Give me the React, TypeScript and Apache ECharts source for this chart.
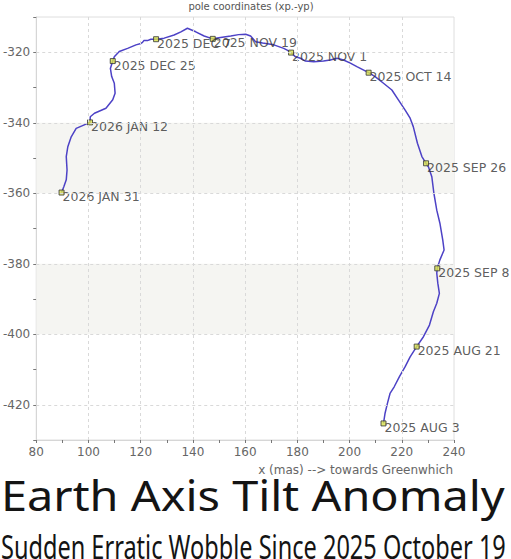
import React, { useEffect, useRef } from 'react';
import * as echarts from 'echarts';

// Polar motion path, in time order (2025 AUG 3 -> 2026 JAN 31)
const pathX = [
  213.0, 213.6, 214.5, 215.5, 217.1, 219.1, 221.3, 223.2, 225.7, 228.3, 230.6, 232.1, 233.4, 234.4, 233.8, 233.4,
  233.6, 234.6, 236.2, 235.7, 234.6, 233.4, 232.3, 231.5, 230.2, 229.3, 227.7, 226.0, 224.4, 223.2, 221.3, 218.7,
  216.2, 213.0, 209.8, 207.3, 202.8, 200.3, 197.7, 195.2, 192.6, 190.0, 186.3, 183.1, 181.2, 179.3, 177.6, 176.1,
  174.8, 171.0, 166.7, 164.0, 162.1, 160.2, 157.5, 154.5, 150.6, 147.6, 144.3, 141.1, 137.9, 135.4, 132.8, 129.0,
  125.9, 123.9, 122.6, 121.2, 120.7, 120.1, 118.2, 115.0, 111.8, 109.9, 109.3, 108.4, 108.9, 109.9, 110.2, 109.3,
  106.7, 102.3, 100.7, 100.6, 98.4, 95.3, 93.4, 92.1, 91.5, 91.8, 91.5, 90.6, 89.7,
];
const pathY = [
  -425.3, -422.4, -419.6, -416.8, -414.9, -412.0, -409.2, -406.4, -403.5, -400.7, -397.4, -393.6, -391.2, -388.4, -385.5, -382.7,
  -381.3, -378.9, -376.1, -373.3, -368.5, -364.8, -360.0, -355.3, -352.5, -351.5, -349.6, -345.8, -341.1, -338.7, -336.4, -333.5,
  -330.7, -328.8, -326.9, -325.8, -324.1, -323.1, -322.2, -321.7, -322.2, -322.5, -322.7, -322.5, -321.7, -321.3, -320.1, -319.4,
  -318.9, -317.9, -317.4, -317.0, -315.4, -314.9, -315.0, -315.4, -315.8, -316.2, -315.4, -314.2, -313.2, -314.2, -315.1, -316.0,
  -316.3, -316.3, -316.7, -316.7, -317.2, -317.5, -317.9, -318.9, -319.8, -321.3, -322.5, -324.6, -326.9, -328.8, -331.6, -333.5,
  -335.9, -337.3, -338.3, -339.9, -340.6, -341.6, -344.0, -346.8, -349.6, -353.4, -356.2, -358.1, -359.8,
];

const markerX = [213.0, 225.7, 233.6, 229.3, 207.3, 177.6, 147.6, 125.9, 109.3, 100.6, 89.7];
const markerY = [-425.3, -403.5, -381.3, -351.5, -325.8, -320.1, -316.2, -316.3, -322.5, -339.9, -359.8];
const markerLabels = [
  '2025 AUG 3', '2025 AUG 21', '2025 SEP 8', '2025 SEP 26', '2025 OCT 14', '2025 NOV 1',
  '2025 NOV 19', '2025 DEC 7', '2025 DEC 25', '2026 JAN 12', '2026 JAN 31',
];

const xGridValues = [100, 120, 140, 160, 180, 200, 220];
const yGridValues = [-420, -400, -380, -360, -340, -320];
const bandRanges = [
  [-360, -340],
  [-400, -380],
];

const chartTitle = 'pole coordinates (xp.-yp)';
const xAxisName = 'x (mas) --> towards Greenwhich';
const headline = 'Earth Axis Tilt Anomaly';
const subline = 'Sudden Erratic Wobble Since 2025 October 19';

function measure(text: string, font: string): number {
  const ctx = document.createElement('canvas').getContext('2d');
  if (!ctx) return 1;
  ctx.font = font;
  return ctx.measureText(text).width;
}

export default function App() {
  const ref = useRef<HTMLDivElement>(null);

  useEffect(() => {
    document.body.style.margin = '0';
    if (!ref.current) return;
    const chart = echarts.init(ref.current, undefined, { renderer: 'svg' });

    const headFont = '41px "Noto Sans"';
    const subFont = '32px "Noto Sans"';
    const headScale = 504 / measure(headline, headFont);
    const subScale = 505 / measure(subline, subFont);

    const pathData = pathX.map((x, i) => [x, pathY[i]]);
    const markerData = markerX.map((x, i) => ({ value: [x, markerY[i]], name: markerLabels[i] }));

    const gridLineStyle = { color: '#d9d9d9', type: [3, 3] as any, width: 1 };

    chart.setOption({
      animation: false,
      backgroundColor: '#ffffff',
      grid: {
        left: 35,
        right: 57,
        top: 17,
        bottom: 119,
        show: true,
        borderColor: '#dedede',
        borderWidth: 1,
        backgroundColor: 'transparent',
      },
      xAxis: {
        type: 'value',
        min: 80,
        max: 240,
        interval: 10,
        axisLine: { show: true, lineStyle: { color: '#d6d6d6' } },
        axisTick: { show: true, length: 3, lineStyle: { color: '#777' } },
        splitLine: { show: false },
        axisLabel: {
          margin: 6,
          color: '#666',
          fontSize: 12,
          fontFamily: 'DejaVu Sans',
          formatter: (v: number) => (v % 20 === 0 ? String(v) : ''),
        },
      },
      yAxis: {
        type: 'value',
        min: -430,
        max: -310,
        interval: 10,
        axisLine: { show: true, lineStyle: { color: '#d6d6d6' } },
        axisTick: { show: true, length: 3, lineStyle: { color: '#777' } },
        splitLine: { show: false },
        axisLabel: {
          margin: 6,
          color: '#666',
          fontSize: 12,
          fontFamily: 'DejaVu Sans',
          formatter: (v: number) => (v % 20 === 0 ? String(v) : ''),
        },
      },
      graphic: [
        {
          type: 'text',
          x: 251,
          y: 6,
          style: {
            text: chartTitle,
            font: '10px "DejaVu Sans"',
            fill: '#555',
            textAlign: 'center',
            textVerticalAlign: 'middle',
          },
        },
        {
          type: 'text',
          x: 453,
          y: 470,
          style: {
            text: xAxisName,
            font: '12px "DejaVu Sans"',
            fill: '#666',
            textAlign: 'right',
            textVerticalAlign: 'middle',
          },
        },
        {
          type: 'text',
          x: 1,
          y: 475,
          scaleX: headScale,
          style: {
            text: headline,
            font: headFont,
            fill: '#141414',
            textAlign: 'left',
            textVerticalAlign: 'top',
          },
        },
        {
          type: 'text',
          x: 1,
          y: 530,
          scaleX: subScale,
          style: {
            text: subline,
            font: subFont,
            fill: '#141414',
            textAlign: 'left',
            textVerticalAlign: 'top',
          },
        },
      ],
      series: [
        {
          type: 'line',
          data: [],
          z: 1,
          silent: true,
          markArea: {
            silent: true,
            itemStyle: { color: '#f5f5f2' },
            data: bandRanges.map((r) => [{ yAxis: r[0] }, { yAxis: r[1] }]),
          },
          markLine: {
            silent: true,
            symbol: ['none', 'none'],
            label: { show: false },
            lineStyle: gridLineStyle,
            data: [
              ...xGridValues.map((v) => ({ xAxis: v })),
              ...yGridValues.map((v) => ({ yAxis: v })),
            ],
          },
        },
        {
          type: 'line',
          data: pathData,
          z: 3,
          showSymbol: false,
          symbol: 'none',
          lineStyle: { color: '#4d42c6', width: 1.5 },
        },
        {
          type: 'scatter',
          data: markerData,
          z: 4,
          symbol: 'rect',
          symbolSize: 5,
          itemStyle: { color: '#d8e24a', borderColor: '#333', borderWidth: 1 },
          label: {
            show: true,
            position: 'right',
            distance: 0,
            offset: [-2, 4],
            formatter: (p: any) => p.name,
            color: '#333',
            fontSize: 12.5,
            fontFamily: 'DejaVu Sans',
          },
        },
      ],
    });

    return () => chart.dispose();
  }, []);

  return (
    <div
      ref={ref}
      style={{ position: 'absolute', left: 0, top: 0, width: 511, height: 559 }}
    />
  );
}
